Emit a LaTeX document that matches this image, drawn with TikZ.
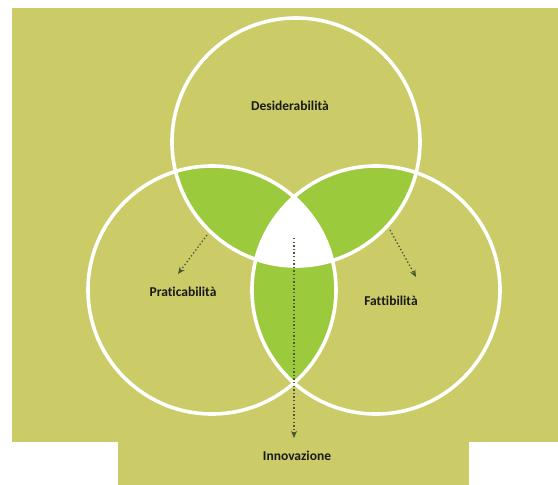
\documentclass[tikz,border=0pt]{standalone}
\usepackage{fontspec}
\setmainfont{Carlito}[Ligatures={NoCommon}]
\usetikzlibrary{arrows.meta}
\definecolor{olive}{HTML}{CBCB67}
\definecolor{leaf}{HTML}{9BCA3C}
\definecolor{dotc}{HTML}{4A5A34}
\begin{document}
\begin{tikzpicture}[x=1pt,y=-1pt,
  lbl/.style={font=\bfseries\fontsize{13.5}{16}\selectfont, text=black!90, inner sep=0pt},
  ring/.style={draw=white, line width=3.6pt},
  arr/.style={draw=dotc, line width=1.3pt, dash pattern=on 1.4pt off 2.2pt, -{Stealth[length=7pt,width=6pt,inset=2pt]}}]
\useasboundingbox (0,0) rectangle (558,485);
\fill[white] (0,0) rectangle (558,485);
\fill[olive] (12,8) rectangle (558,441.5);
\fill[olive] (118,441) rectangle (469,485);
\coordinate (T) at (296,142);
\coordinate (L) at (212,290);
\coordinate (R) at (376,290);
\def\rr{124}
\begin{scope}
  \clip (T) circle (\rr);
  \fill[leaf] (L) circle (\rr);
  \fill[leaf] (R) circle (\rr);
\end{scope}
\begin{scope}
  \clip (L) circle (\rr);
  \fill[leaf] (R) circle (\rr);
\end{scope}
\begin{scope}
  \clip (T) circle (\rr);
  \clip (L) circle (\rr);
  \fill[white] (R) circle (\rr);
\end{scope}
\draw[ring] (T) circle (\rr);
\draw[ring] (L) circle (\rr);
\draw[ring] (R) circle (\rr);
\node[lbl] (des) at (290,106) {Desiderabilità};
\node[lbl] (pra) at (183,292) {Praticabilità};
\node[lbl] (fat) at (391,301) {Fattibilità};
\node[lbl] (inn) at (297,456) {Innovazione};
\coordinate (ls) at (207,235);
\coordinate (le) at (178,274);
\coordinate (rs) at (390,230);
\coordinate (re) at (416,277);
\coordinate (cs) at (294,238);
\coordinate (ce) at (294,438);
\draw[arr] (ls) -- (le);
\draw[arr] (rs) -- (re);
\draw[arr] (cs) -- (ce);
\end{tikzpicture}
\end{document}
